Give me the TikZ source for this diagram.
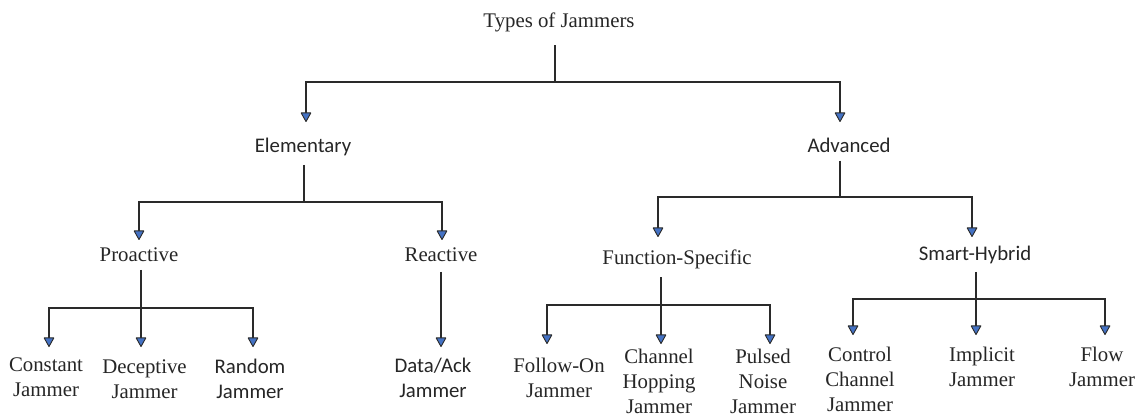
\documentclass[tikz,border=0pt]{standalone}
\usepackage{fontspec}
\setmainfont{Liberation Serif}
\newfontfamily\calibri{Carlito}
\usetikzlibrary{arrows.meta,calc}
\definecolor{txt}{HTML}{262626}
\definecolor{lnc}{HTML}{2A2A2A}
\definecolor{arrowblue}{HTML}{4472C4}
\tikzset{
  lbl/.style={anchor=north,inner sep=0pt,outer sep=0pt,text=txt,align=center,
    font=\fontsize{20.8}{25}\selectfont},
  slbl/.style={lbl,font=\fontsize{20.8}{25}\selectfont\calibri},
  ln/.style={draw=lnc,line width=1.3pt},
  arr/.style={ln,-{Triangle[length=10pt,width=11pt,fill=arrowblue,line width=0.9pt,round]}},
}
\begin{document}
\begin{tikzpicture}[x=1pt,y=-1pt]
\useasboundingbox[fill=white] (0,0) rectangle (1147,419);
% nodes
\node[lbl]  (top)  at (559,13)  {Types of Jammers};
\node[slbl] (elem) at (303,138) {Elementary};
\node[slbl] (adv)  at (849,138) {Advanced};
\node[lbl]  (pro)  at (139,248) {Proactive};
\node[lbl]  (rea)  at (441,248) {Reactive};
\node[lbl]  (fun)  at (677,250) {Function-Specific};
\node[slbl] (sma)  at (975,246) {Smart-Hybrid};
\node[lbl]  (c1) at (46,358)   {Constant\\Jammer};
\node[lbl]  (c2) at (144.5,360) {Deceptive\\Jammer};
\node[slbl] (c3) at (250,359)  {Random\\Jammer};
\node[slbl] (c4) at (433,358)  {Data/Ack\\Jammer};
\node[lbl]  (c5) at (559,358)  {Follow-On\\Jammer};
\node[lbl]  (c6) at (659,349)  {Channel\\Hopping\\Jammer};
\node[lbl]  (c7) at (763,349)  {Pulsed\\Noise\\Jammer};
\node[lbl]  (c8) at (860,347)  {Control\\Channel\\Jammer};
\node[lbl]  (c9) at (982,347)  {Implicit\\Jammer};
\node[lbl]  (c10) at (1102,347) {Flow\\Jammer};
% junctions
\coordinate (j0) at (555,82);
\coordinate (j1) at (304,202);
\coordinate (j2) at (840,197);
\coordinate (j3) at (141,308);
\coordinate (j4) at (661,305);
\coordinate (j5) at (976,299);
% level 1
\draw[ln] ($(top.south -| j0)+(0,13)$) -- (j0);
\draw[arr] (j0) -| ([xshift=3pt,yshift=16pt]elem.north);
\draw[arr] (j0) -| ([xshift=-9pt,yshift=16pt]adv.north);
% level 2
\draw[ln] ($(elem.south -| j1)+(0,9)$) -- (j1);
\draw[arr] (j1) -| ([xshift=0pt,yshift=8pt]pro.north);
\draw[arr] (j1) -| ([xshift=1pt,yshift=8pt]rea.north);
\draw[ln] ($(adv.south -| j2)+(0,8)$) -- (j2);
\draw[arr] (j2) -| ([xshift=-19pt,yshift=13pt]fun.north);
\draw[arr] (j2) -| ([xshift=-3pt,yshift=9pt]sma.north);
% level 3
\draw[ln] ($(pro.south -| j3)+(0,8)$) -- (j3);
\draw[arr] (j3) -| ([xshift=3pt,yshift=11pt]c1.north);
\draw[arr] (j3) -- ([yshift=13pt]j3 |- c2.north);
\draw[arr] (j3) -| ([xshift=3pt,yshift=12pt]c3.north);
\draw[arr] ($(rea.south -| c4.north)+(8,10)$) -- ([xshift=8pt,yshift=11pt]c4.north);
\draw[ln] ($(fun.south -| j4)+(0,8)$) -- (j4);
\draw[arr] (j4) -| ([xshift=-12pt,yshift=14pt]c5.north);
\draw[arr] (j4) -| ([xshift=2pt,yshift=5pt]c6.north);
\draw[arr] (j4) -| ([xshift=7pt,yshift=5pt]c7.north);
\draw[ln] ($(sma.south -| j5)+(0,8)$) -- (j5);
\draw[arr] (j5) -| ([xshift=-7pt,yshift=12pt]c8.north);
\draw[arr] (j5) -| ([xshift=-6pt,yshift=12pt]c9.north);
\draw[arr] (j5) -| ([xshift=3pt,yshift=12pt]c10.north);
\end{tikzpicture}
\end{document}
